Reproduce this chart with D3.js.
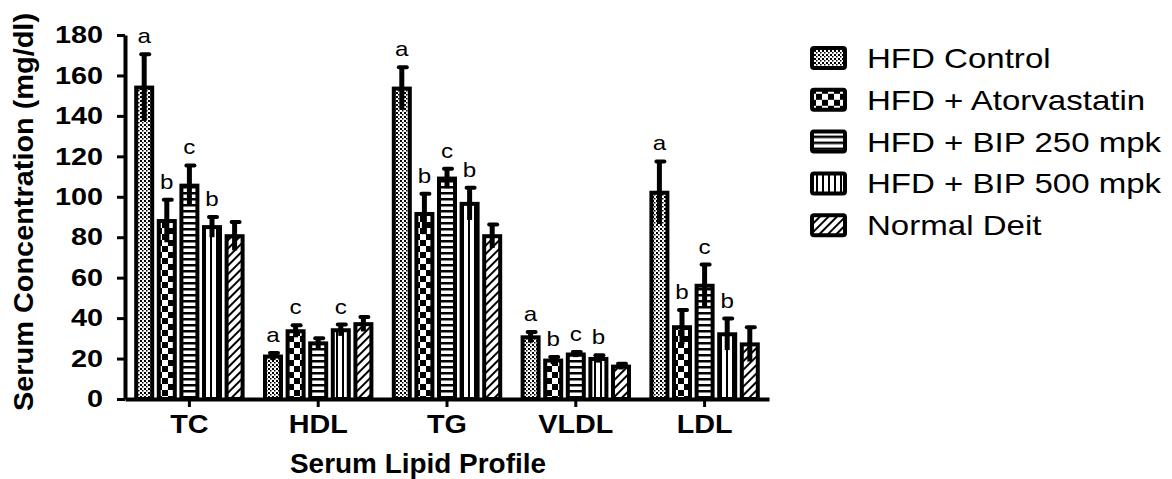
<!DOCTYPE html>
<html>
<head>
<meta charset="utf-8">
<script src="https://cdn.jsdelivr.net/npm/d3@7"></script>
<style>
  body { margin: 0; background: #fff; }
  text { font-family: "Liberation Sans", Arial, sans-serif; fill: #000; }
</style>
</head>
<body>
<div id="chart"></div>
<script>
// Lipid parameters on the x axis
const categories = ["TC", "HDL", "TG", "VLDL", "LDL"];

// Treatment groups (legend order)
const groups = ["HFD Control", "HFD + Atorvastatin", "HFD + BIP 250 mpk", "HFD + BIP 500 mpk", "Normal Deit"];

// Mean values per group, in category order
const hfdControl   = [154, 21, 153.5, 30.5, 102];
const atorvastatin = [88, 33.5, 91.5, 19, 35.5];
const bip250       = [105.5, 27.5, 109, 22, 56];
const bip500       = [85, 34, 96.5, 19.8, 32];
const normalDiet   = [80.5, 37, 80.5, 16, 27];

// Error (SD) per group
const errControl = [16.5, 1.8, 10.5, 2.6, 15.5];
const errAtor    = [10.5, 3, 10, 1.8, 8.5];
const err250     = [10, 2.5, 4.8, 1.3, 10.5];
const err500     = [5, 2.8, 8, 1.8, 7.8];
const errNormal  = [7, 3.6, 5.8, 1.4, 8.5];

// Significance letters above bars
const sigControl = ["a", "a", "a", "a", "a"];
const sigAtor    = ["b", "c", "b", "b", "b"];
const sig250     = ["c", "", "c", "c", "c"];
const sig500     = ["b", "c", "b", "b", "b"];
const sigNormal  = ["", "", "", "", ""];

const yTicks = [0, 20, 40, 60, 80, 100, 120, 140, 160, 180];

const means = [hfdControl, atorvastatin, bip250, bip500, normalDiet];
const errs = [errControl, errAtor, err250, err500, errNormal];
const sigs = [sigControl, sigAtor, sig250, sig500, sigNormal];

const width = 1172, height = 479;
const margin = { left: 125, right: 769, top: 35, bottom: 399 };

const svg = d3.select("#chart").append("svg")
  .attr("width", width)
  .attr("height", height);

// Fill patterns
const defs = svg.append("defs");

function pattern(id, w, h, rects, transform) {
  const p = defs.append("pattern")
    .attr("id", id)
    .attr("patternUnits", "userSpaceOnUse")
    .attr("width", w)
    .attr("height", h);
  if (transform) p.attr("patternTransform", transform);
  p.append("rect").attr("width", w).attr("height", h).attr("fill", "#fff");
  rects.forEach(r => p.append("rect")
    .attr("x", r[0]).attr("y", r[1]).attr("width", r[2]).attr("height", r[3])
    .attr("fill", "#000"));
}
pattern("p0", 4, 4, [[0, 0, 2, 2], [2, 2, 1.5, 1.5]]);
pattern("p1", 12, 12, [[0, 0, 6, 6], [6, 6, 6, 6]]);
pattern("p2", 6, 6, [[0, 0, 6, 2.5]]);
pattern("p3", 6, 6, [[0, 0, 2, 6]]);
pattern("p4", 6, 6, [[0, 0, 2, 6]], "rotate(45)");

// Stretch text horizontally like the source image
function stretch(sel, k) {
  sel.each(function () {
    const w = this.getComputedTextLength();
    d3.select(this).attr("textLength", w * k).attr("lengthAdjust", "spacingAndGlyphs");
  });
}

// Scales
const x = d3.scaleBand().domain(categories).range([margin.left, margin.right]);
const xInner = d3.scaleBand().domain(d3.range(groups.length)).range([-56.5, 56.5]);
const y = d3.scaleLinear().domain([0, 180]).range([margin.bottom, margin.top]);

// Flatten bars
const bars = [];
categories.forEach((c, ci) => {
  groups.forEach((g, gi) => {
    bars.push({ cat: c, g: gi, v: means[gi][ci], e: errs[gi][ci], sig: sigs[gi][ci] });
  });
});
const cx = d => x(d.cat) + x.bandwidth() / 2 + xInner(d.g) + xInner.bandwidth() / 2;

// Bars
svg.append("g").selectAll("rect")
  .data(bars)
  .join("rect")
  .attr("x", d => cx(d) - 8)
  .attr("y", d => y(d.v))
  .attr("width", 16)
  .attr("height", d => y(0) - y(d.v))
  .attr("fill", d => `url(#p${d.g})`)
  .attr("stroke", "#000")
  .attr("stroke-width", 4);

// Error bars
const eb = svg.append("g");
eb.selectAll("line.err")
  .data(bars)
  .join("line")
  .attr("class", "err")
  .attr("x1", cx).attr("x2", cx)
  .attr("y1", d => y(d.v - d.e))
  .attr("y2", d => y(d.v + d.e))
  .attr("stroke", "#000")
  .attr("stroke-width", 5);
eb.selectAll("line.cap")
  .data(bars)
  .join("line")
  .attr("class", "cap")
  .attr("x1", d => cx(d) - 3)
  .attr("x2", d => cx(d) + 5)
  .attr("y1", d => y(d.v + d.e))
  .attr("y2", d => y(d.v + d.e))
  .attr("stroke", "#000")
  .attr("stroke-width", 4)
  .attr("stroke-linecap", "round");

// Significance letters
const sl = svg.append("g").selectAll("text")
  .data(bars.filter(d => d.sig))
  .join("text")
  .attr("x", cx)
  .attr("y", d => y(d.v + d.e) - 11)
  .attr("text-anchor", "middle")
  .style("font-size", "21px")
  .text(d => d.sig);
stretch(sl, 1.15);

// Axes
const yAxis = svg.append("g")
  .attr("transform", `translate(${margin.left},0)`)
  .call(d3.axisLeft(y).tickValues(yTicks).tickSize(8).tickSizeOuter(0).tickPadding(14));
yAxis.select(".domain").attr("stroke-width", 4);
yAxis.selectAll(".tick line").attr("stroke-width", 3);
yAxis.selectAll("text").style("font-size", "24px").style("font-weight", "bold")
  .style("font-family", "'Liberation Sans', Arial, sans-serif");
stretch(yAxis.selectAll("text"), 1.2);

const xAxis = svg.append("g")
  .attr("transform", `translate(0,${margin.bottom})`)
  .call(d3.axisBottom(x).tickSize(8).tickSizeOuter(0).tickPadding(8));
xAxis.select(".domain").attr("stroke-width", 4);
xAxis.selectAll(".tick line").attr("stroke-width", 3);
xAxis.selectAll("text").style("font-size", "25px").style("font-weight", "bold")
  .style("font-family", "'Liberation Sans', Arial, sans-serif");
stretch(xAxis.selectAll("text"), 1.15);

// Axis titles
svg.append("text")
  .attr("x", 418)
  .attr("y", 473)
  .attr("text-anchor", "middle")
  .style("font-size", "27px")
  .style("font-weight", "bold")
  .attr("textLength", 256)
  .attr("lengthAdjust", "spacingAndGlyphs")
  .text("Serum Lipid Profile");

svg.append("text")
  .attr("transform", "translate(33,212) rotate(-90)")
  .attr("text-anchor", "middle")
  .style("font-size", "28px")
  .style("font-weight", "bold")
  .attr("textLength", 398)
  .attr("lengthAdjust", "spacingAndGlyphs")
  .text("Serum Concentration (mg/dl)");

// Legend
const legend = svg.append("g").attr("transform", "translate(810,58)");
const rows = legend.selectAll("g")
  .data(groups)
  .join("g")
  .attr("transform", (d, i) => `translate(0,${i * 41.8})`);
rows.append("rect")
  .attr("x", 2).attr("y", -10)
  .attr("width", 33).attr("height", 20)
  .attr("rx", 2)
  .attr("fill", (d, i) => `url(#p${i})`)
  .attr("stroke", "#000")
  .attr("stroke-width", 4);
const lt = rows.append("text")
  .attr("x", 57)
  .attr("y", 10)
  .style("font-size", "28px")
  .text(d => d);
stretch(lt, 1.18);
</script>
</body>
</html>
